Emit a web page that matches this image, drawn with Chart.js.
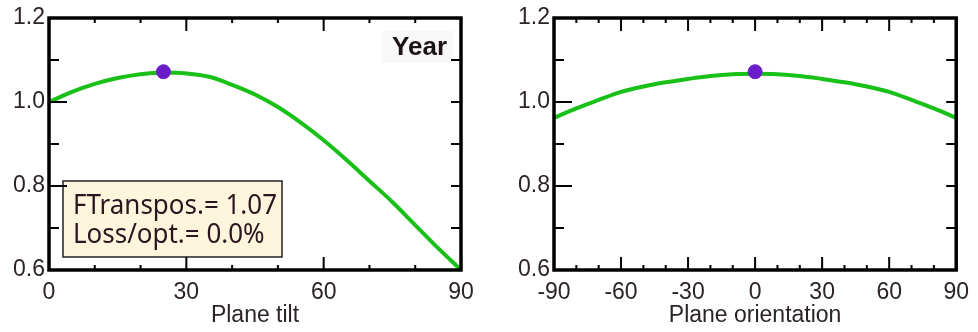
<!DOCTYPE html>
<html>
<head>
<meta charset="utf-8">
<script src="https://cdn.jsdelivr.net/npm/chart.js@4/dist/chart.umd.min.js"></script>
<style>
  html, body { margin: 0; padding: 0; background: #fff; }
  #wrap { width: 978px; height: 332px; position: relative; }
  .box { position: absolute; top: 0; width: 489px; height: 332px; }
  #box-tilt { left: 0; }
  #box-orient { left: 489px; }
</style>
</head>
<body>
<div id="wrap">
  <div class="box" id="box-tilt"><canvas id="tilt"></canvas></div>
  <div class="box" id="box-orient"><canvas id="orient"></canvas></div>
</div>
<script>
// data
const tiltDeg = [0, 5, 10, 15, 20, 25, 30, 35, 40, 45, 50, 55, 60, 65, 70, 75, 80, 85, 90];
const tiltFactor = [1.000, 1.024, 1.043, 1.057, 1.066, 1.070, 1.068, 1.060, 1.041, 1.018, 0.988, 0.951, 0.909, 0.862, 0.812, 0.762, 0.707, 0.652, 0.600];

const orientDeg = [-90, -80, -70, -60, -50, -40, -30, -20, -10, 0, 10, 20, 30, 40, 50, 60, 70, 80, 90];
const orientFactor = [0.962, 0.985, 1.005, 1.024, 1.037, 1.047, 1.055, 1.062, 1.066, 1.067, 1.066, 1.062, 1.055, 1.047, 1.037, 1.024, 1.005, 0.985, 0.962];

const tiltOpt = [25, 1.072];
const orientOpt = [0, 1.072];

const yTicks = [0.6, 0.8, 1.0, 1.2];
const tiltTicks = [0, 30, 60, 90];
const orientTicks = [-90, -60, -30, 0, 30, 60, 90];

const infoLines = ['FTranspos.= 1.07', 'Loss/opt.= 0.0%'];

const green = '#18c018';
const purple = '#6a1ec8';
const textCol = '#2c2424';

function toXY(xs, ys) {
    return xs.map((x, i) => ({ x: x, y: ys[i] }));
}

// frame with inward ticks, drawn from the scales
const framePlugin = {
    id: 'frame',
    afterDatasetsDraw(chart) {
        const ctx = chart.ctx;
        const a = chart.chartArea;
        const xs = chart.scales.x;
        const ys = chart.scales.y;
        ctx.save();
        ctx.strokeStyle = '#000';
        ctx.lineWidth = 2;
        xs.ticks.forEach(t => {
            const px = xs.getPixelForValue(t.value);
            const major = Math.round(t.value) % 30 === 0;
            const len = major ? 13 : 5;
            ctx.beginPath();
            ctx.moveTo(px, a.bottom); ctx.lineTo(px, a.bottom - len);
            ctx.moveTo(px, a.top); ctx.lineTo(px, a.top + len);
            ctx.stroke();
        });
        ys.ticks.forEach(t => {
            const py = ys.getPixelForValue(t.value);
            const major = Math.round(t.value * 10) % 2 === 0;
            ctx.beginPath();
            ctx.moveTo(a.left, py); ctx.lineTo(a.left + (major ? 18 : 10), py);
            ctx.moveTo(a.right, py); ctx.lineTo(a.right - 10, py);
            ctx.stroke();
        });
        ctx.lineWidth = 3.5;
        ctx.strokeRect(a.left, a.top, a.right - a.left, a.bottom - a.top);
        ctx.restore();
    }
};

// "Year" label and the result box on the tilt chart
const notePlugin = {
    id: 'note',
    beforeDatasetsDraw(chart) {
        if (chart.canvas.id !== 'tilt') return;
        const ctx = chart.ctx;
        ctx.save();
        ctx.fillStyle = '#f8f8f8';
        ctx.fillRect(382, 31, 72, 32);
        ctx.fillStyle = '#1c1414';
        ctx.font = 'bold 26px "Liberation Sans", Arial, sans-serif';
        ctx.textAlign = 'right';
        ctx.textBaseline = 'alphabetic';
        ctx.fillText('Year', 447, 55);

        ctx.fillStyle = '#fdf5dc';
        ctx.fillRect(63, 181, 219, 76);
        ctx.strokeStyle = '#222';
        ctx.lineWidth = 1.5;
        ctx.strokeRect(63, 181, 219, 76);

        ctx.fillStyle = '#2b1620';
        ctx.textAlign = 'left';
        ctx.font = '28px "Noto Sans", sans-serif';
        const w = ctx.measureText(infoLines[0]).width;
        const k = 204 / w;
        ctx.translate(73, 0);
        ctx.scale(k, 1);
        ctx.fillText(infoLines[0], 0, 214);
        ctx.fillText(infoLines[1], 0, 243);
        ctx.restore();
    }
};

function makeChart(id, xs, ys, opt, xMin, xMax, xLabels, title, yWidth, padRight) {
    return new Chart(document.getElementById(id), {
        type: 'line',
        data: {
            datasets: [{
                data: toXY(xs, ys),
                borderColor: green,
                borderWidth: 4,
                pointRadius: 0,
                tension: 0.35,
                cubicInterpolationMode: 'monotone',
                clip: false,
                order: 2
            }, {
                data: [{ x: opt[0], y: opt[1] }],
                showLine: false,
                pointRadius: 7,
                pointBackgroundColor: purple,
                pointBorderColor: purple,
                clip: false,
                order: 1
            }]
        },
        options: {
            responsive: true,
            maintainAspectRatio: false,
            animation: false,
            events: [],
            layout: { padding: { top: 18, right: padRight, bottom: 0, left: 0 } },
            plugins: { legend: { display: false }, tooltip: { enabled: false } },
            scales: {
                x: {
                    type: 'linear',
                    min: xMin,
                    max: xMax,
                    grid: { display: false, drawTicks: false },
                    border: { display: false },
                    afterFit(scale) { scale.height = 62; },
                    ticks: {
                        stepSize: 10,
                        autoSkip: false,
                        maxRotation: 0,
                        padding: 9,
                        color: textCol,
                        font: { family: '"Liberation Sans", Arial, sans-serif', size: 23 },
                        callback: v => xLabels.includes(v) ? String(v) : ''
                    },
                    title: {
                        display: true,
                        text: title,
                        color: textCol,
                        padding: { top: 0, bottom: 3 },
                        font: { family: '"Liberation Sans", Arial, sans-serif', size: 23 }
                    }
                },
                y: {
                    min: 0.6,
                    max: 1.2,
                    grid: { display: false, drawTicks: false },
                    border: { display: false },
                    afterFit(scale) { scale.width = yWidth; },
                    ticks: {
                        stepSize: 0.1,
                        autoSkip: false,
                        padding: 4,
                        color: textCol,
                        font: { family: '"Liberation Sans", Arial, sans-serif', size: 23 },
                        callback: v => {
                            const r = Math.round(v * 10) / 10;
                            return yTicks.includes(r) ? r.toFixed(1) : '';
                        }
                    }
                }
            }
        },
        plugins: [notePlugin, framePlugin]
    });
}

makeChart('tilt', tiltDeg, tiltFactor, tiltOpt, 0, 90, tiltTicks, 'Plane tilt', 49, 28);
makeChart('orient', orientDeg, orientFactor, orientOpt, -90, 90, orientTicks, 'Plane orientation', 65, 17);
</script>
</body>
</html>
